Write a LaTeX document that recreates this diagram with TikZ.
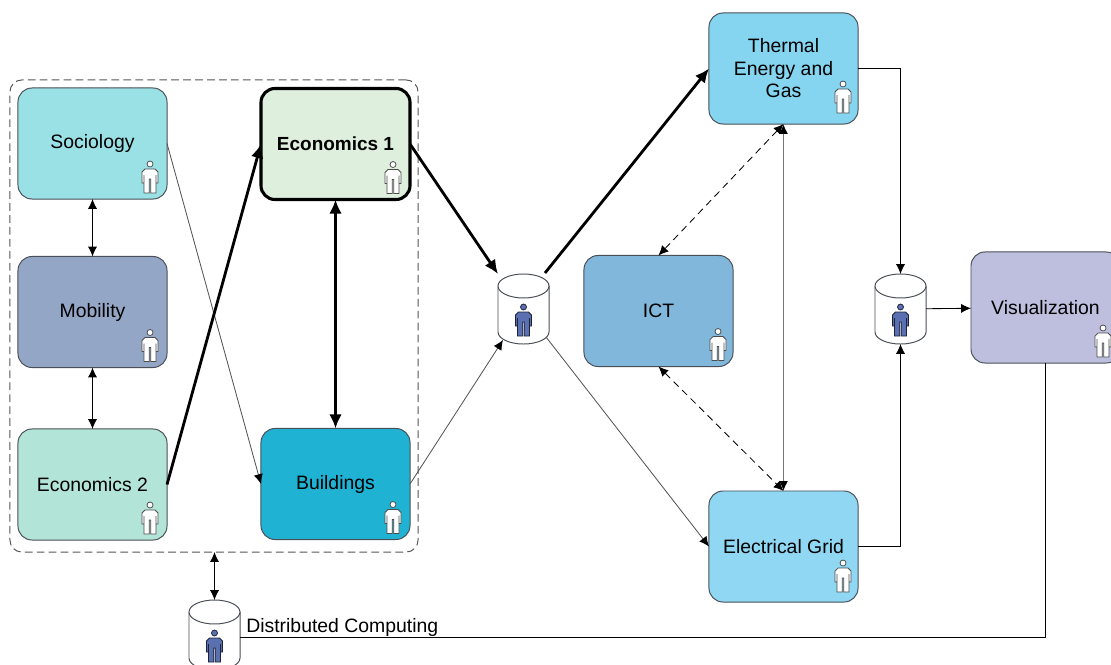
\documentclass[tikz,border=0pt]{standalone}
\usepackage{fontspec}
\setmainfont{Liberation Sans}
\usetikzlibrary{arrows.meta}

\definecolor{linegray}{HTML}{4A4F55}
\definecolor{arrowgray}{HTML}{555555}
\definecolor{sociologycol}{HTML}{9AE1E6}
\definecolor{mobilitycol}{HTML}{94A6C6}
\definecolor{economicscol}{HTML}{B2E4D8}
\definecolor{leadcol}{HTML}{DFEFDD}
\definecolor{buildingscol}{HTML}{20B2D2}
\definecolor{thermalcol}{HTML}{85D5F0}
\definecolor{ictcol}{HTML}{80B7DA}
\definecolor{gridcol}{HTML}{8FD7F3}
\definecolor{viscol}{HTML}{BEBFDE}
\definecolor{personblue}{HTML}{5B70B0}
\definecolor{midgray}{HTML}{767676}

\tikzset{
    box/.style={draw=linegray, line width=0.7pt, rounded corners=0.35cm, minimum width=3.725cm, minimum height=2.775cm, inner sep=0pt, outer sep=0pt, align=center, font=\fontsize{13.8}{16}\selectfont},
    store/.style={minimum width=1.275cm, minimum height=1.75cm, inner sep=0pt, outer sep=0pt},
    storeline/.style={draw=linegray, line width=0.7pt, fill=white},
    thinlink/.style={line width=0.6pt, -{Latex[length=7pt,width=6.5pt,color=black]}},
    bothlink/.style={line width=0.6pt, {Latex[length=7pt,width=6.5pt,color=black]}-{Latex[length=7pt,width=6.5pt,color=black]}},
    greylink/.style={draw=arrowgray},
    heavylink/.style={line width=2pt, -{Latex[length=10pt,width=9pt]}},
    heavyboth/.style={line width=2pt, {Latex[length=10pt,width=9pt]}-{Latex[length=10pt,width=9pt]}},
    pics/person/.style={code={
        \draw[draw=#1!30!black, fill=#1, line width=0.55pt] (-5,-8) -- (5,-8) -- (8,-5) -- (8,6) -- (6,6) -- (6,-2) -- (6,16) -- (0.7,16) -- (0.7,2) -- (-0.7,2) -- (-0.7,16) -- (-6,16) -- (-6,-2) -- (-6,6) -- (-8,6) -- (-8,-5) -- cycle;
        \draw[draw=#1!30!black, fill=#1, line width=0.55pt] (0,-13) circle [radius=3];
    }},
}

\begin{document}
\begin{tikzpicture}[x=0.025cm, y=-0.025cm]

    \useasboundingbox (0,0) rectangle (1111,664);

    % group around the models on the left
    \node[draw=arrowgray, dash pattern=on 5.5pt off 3pt, line width=0.7pt, rounded corners=0.3cm, minimum width=10.2cm, minimum height=11.8cm, inner sep=0pt, outer sep=0pt] (group) at (214,316) {};

    \node[box, fill=sociologycol] (sociology) at (92.5,143.5) {Sociology};
    \node[box, fill=mobilitycol] (mobility) at (92.5,312) {Mobility};
    \node[box, fill=economicscol] (economics2) at (92.5,484.5) {Economics 2};
    \node[box, fill=leadcol, line width=2.2pt, draw=black, font=\fontsize{13.5}{16}\selectfont] (economics1) at (335.5,144) {\textbf{Economics 1}};
    \node[box, fill=buildingscol] (buildings) at (335.5,484) {Buildings};

    \node[box, fill=thermalcol] (thermal) at (783.5,68.5) {Thermal\\Energy and\\Gas};
    \node[box, fill=ictcol] (ict) at (658.5,311) {ICT};
    \node[box, fill=gridcol] (grid) at (783.5,546.5) {Electrical Grid};
    \node[box, fill=viscol] (visual) at (1045.5,307.5) {Visualization};

    \node[store] (store1) at (523.5,309) {};
    \node[store] (store2) at (900.5,309) {};
    \node[store] (store3) at (214.5,635) {};

    \node[anchor=west, inner sep=0pt, font=\fontsize{13.8}{16}\selectfont] (distlabel) at (246,627) {Distributed Computing};

    % cylinders
    \foreach \n in {store1, store2, store3} {
        \draw[storeline] ([shift={(0,12)}]\n.north west) -- ([shift={(0,-12)}]\n.south west) arc [x radius=0.6375cm, y radius=0.3cm, start angle=180, end angle=360] -- ([shift={(0,12)}]\n.north east);
        \draw[storeline] ([shift={(0,12)}]\n.north west) arc [x radius=0.6375cm, y radius=0.3cm, start angle=180, end angle=-180];
        \pic at ([shift={(0,11)}]\n.center) {person=personblue};
    }

    % persons
    \foreach \n/\d/\h in {sociology/17/22, mobility/17/22, economics2/17/22, economics1/17/22, buildings/17/22, thermal/15/27, ict/15/22, grid/15/26, visual/17/22}
        \pic at ([shift={(-\d,-\h)}]\n.south east) {person=white};

    % links
    \draw[bothlink] (sociology) -- (mobility);
    \draw[bothlink] (mobility) -- (economics2);
    \draw[thinlink, greylink] (sociology.east) -- (buildings.west);
    \draw[heavylink] (economics2.east) -- (economics1.west);
    \draw[heavyboth] (economics1) -- (buildings);
    \draw[heavylink] (economics1.east) -- (store1.north west);
    \draw[thinlink, greylink] (buildings.east) -- ([shift={(5,-4)}]store1.south west);
    \draw[heavylink] ([shift={(-4,-1)}]store1.north east) -- (thermal.west);
    \draw[thinlink, greylink] ([shift={(-3,-7)}]store1.south east) -- (grid.west);
    \draw[midgray, line width=1.4pt, {Latex[length=7pt,width=6.5pt,color=black]}-{Latex[length=7pt,width=6.5pt,color=black]}] (thermal) -- (grid);
    \draw[bothlink, dash pattern=on 5pt off 3.5pt] (thermal.south) -- (ict.north);
    \draw[bothlink, dash pattern=on 5pt off 3.5pt] (ict.south) -- (grid.north);
    \draw[thinlink] (thermal.east) -| (store2.north);
    \draw[thinlink] (grid.east) -| (store2.south);
    \draw[thinlink] (store2) -- (visual);
    \draw[bothlink] (group.south -| store3.north) -- (store3.north);
    \draw[line width=0.6pt] (visual.south) |- (store3.east |- 0,637);

\end{tikzpicture}
\end{document}
